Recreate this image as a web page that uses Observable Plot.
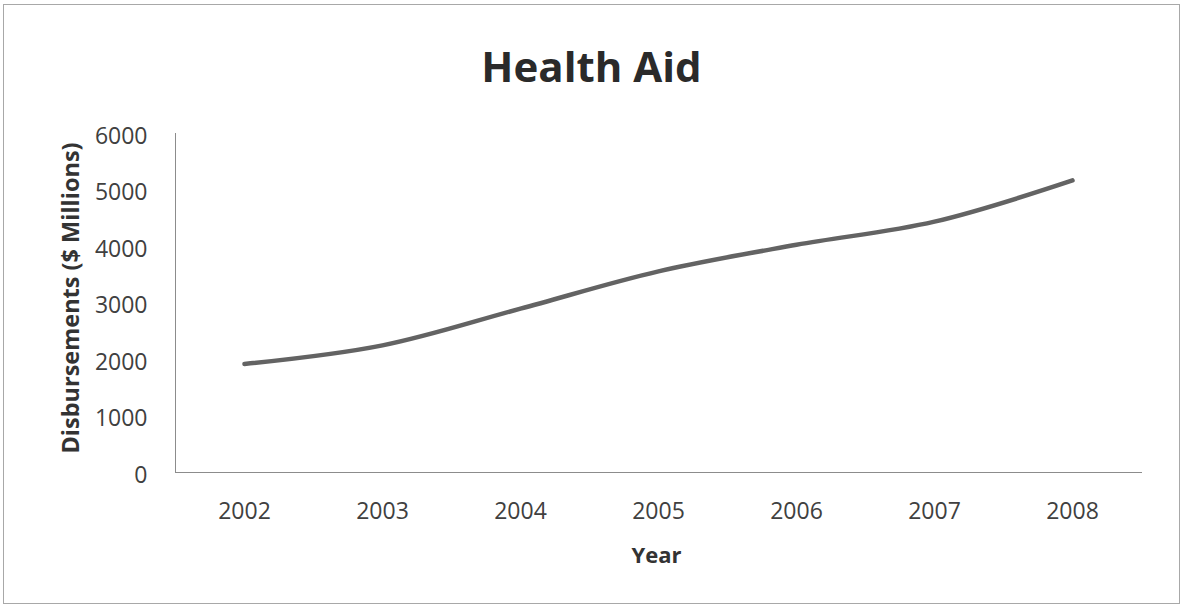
<!DOCTYPE html>
<html>
<head>
<meta charset="utf-8">
<script src="https://cdn.jsdelivr.net/npm/d3@7"></script>
<script src="https://cdn.jsdelivr.net/npm/@observablehq/plot@0.6"></script>
<style>
  html, body { margin: 0; padding: 0; background: #fff; }
  #wrap { position: relative; width: 1183px; height: 605px; overflow: hidden; background: #fff; }
  #frame { position: absolute; left: 3px; top: 4px; width: 1177px; height: 600px; box-sizing: border-box; border: 1px solid #a8a8a8; }
  #title { position: absolute; left: 0; top: 45px; width: 1183px; text-align: center; font-family: "Open Sans", sans-serif; font-weight: 700; font-size: 42px; line-height: 42px; color: #2a2a2a; }
  #chart { position: absolute; left: 0; top: 100px; }
</style>
</head>
<body>
<div id="wrap">
  <div id="frame"></div>
  <div id="title">Health Aid</div>
  <div id="chart"></div>
</div>
<script>
const years = ["2002", "2003", "2004", "2005", "2006", "2007", "2008"];
const disbursements = [1920, 2250, 2900, 3560, 4030, 4440, 5170];
const yTicks = [0, 1000, 2000, 3000, 4000, 5000, 6000];
const yLabel = "Disbursements ($ Millions)";
const xLabel = "Year";

const data = years.map((y, i) => ({year: y, value: disbursements[i]}));

const chart = Plot.plot({
  width: 1183,
  height: 505,
  marginTop: 33,
  marginBottom: 133,
  marginLeft: 175,
  marginRight: 42,
  style: {fontFamily: "Open Sans, sans-serif", fontSize: "23px", color: "#404040", background: "transparent"},
  x: {type: "point", domain: years, padding: 0.5},
  y: {domain: [0, 6000]},
  marks: [
    Plot.axisY({ticks: yTicks, tickFormat: d => String(d), tickSize: 0, tickPadding: 28, label: null, dy: 3}),
    Plot.axisX({tickSize: 0, tickPadding: 30, label: null}),
    Plot.frame({anchor: "left", stroke: "#8c8c8c", strokeWidth: 1}),
    Plot.frame({anchor: "bottom", stroke: "#8c8c8c", strokeWidth: 1}),
    Plot.line(data, {x: "year", y: "value", stroke: "#636363", strokeWidth: 4.5, curve: "catmull-rom", strokeLinecap: "round"}),
    Plot.text([yLabel], {frameAnchor: "left", text: d => d, rotate: -90, dx: -104, dy: -5, fontWeight: 700, fontSize: 23.5, fill: "#333", lineAnchor: "middle", textAnchor: "middle"}),
    Plot.text([xLabel], {frameAnchor: "bottom", text: d => d, dy: 83, dx: -2, fontWeight: 700, fontSize: 22, fill: "#333", lineAnchor: "middle", textAnchor: "middle"})
  ]
});
document.getElementById("chart").appendChild(chart);
</script>
</body>
</html>
